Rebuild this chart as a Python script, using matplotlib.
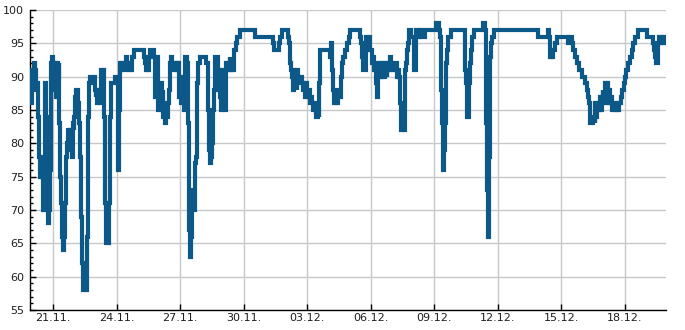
#!/usr/bin/env python3
"""Humidity trace, 19.11.-20.12. -> out.png"""
import matplotlib
matplotlib.use("Agg")
import matplotlib.pyplot as plt
import matplotlib.dates as mdates
import pandas as pd

LINE, GRID, INK, LABEL = "#0c5888", "#c8c8c8", "#000000", "#1e1e1e"
plt.rcParams.update({"font.family": ["DejaVu Sans"], "font.size": 8})

START = "2019-11-19"
# hours since START and the reading that holds from then on (step data)
HOURS = [
    22, 23, 24, 26, 27, 28, 29, 30, 31, 32, 33, 34, 35, 36, 37, 38, 39, 40, 41, 42,
    43, 44, 45, 46, 47, 48, 49, 50, 51, 52, 53, 54, 55, 56, 57, 58, 59, 60, 61, 62,
    63, 64, 65, 66, 67, 68, 69, 70, 71, 72, 73, 74, 75, 76, 77, 78, 79, 80, 81, 82,
    84, 85, 86, 87, 88, 89, 90, 92, 94, 95, 96, 97, 98, 99, 100, 101, 102, 104, 105, 106,
    107, 108, 110, 111, 112,
    113, 114, 116, 118, 120, 121, 122, 123, 124, 125, 126, 128, 130, 131, 132, 134, 135, 136, 137, 139,
    140, 150, 151, 152, 153, 154, 155, 156, 157, 158, 161, 162, 163, 164, 165, 166, 167, 168, 169, 170,
    171, 172, 173, 174, 175, 176, 177, 178, 179, 180, 181, 182, 183, 184, 186, 187, 188, 189, 190, 191,
    192, 193, 194, 195, 196, 197, 198, 200,
    201, 202, 203, 204, 205, 206, 207, 208, 209, 210, 211, 212, 214, 215, 220, 221, 223, 224, 225, 226,
    227, 228, 229, 230, 231, 232, 234, 235, 236, 237, 238, 239, 240, 241, 242, 243, 244, 245, 246, 247,
    248, 249, 250, 251, 252, 253, 255, 256, 257, 260,
    277, 297, 298, 304, 305, 307, 314, 315, 316, 317, 318, 319, 320, 321, 322, 323, 324, 325, 326, 327,
    329, 330, 331, 332, 333, 334, 335, 336, 338, 339, 340, 342, 343, 344, 345, 346, 348, 349, 350, 351,
    361, 362, 363, 364, 365, 366, 368, 370, 371, 373, 374, 375, 377, 379, 381, 383, 385,
    396, 397, 398, 399, 401, 403, 404, 405, 406, 407, 409, 410, 411, 412, 414, 415, 416, 417, 418, 419,
    420, 421, 422, 423, 424, 426, 427, 428, 429, 430, 431, 432, 434, 435, 437, 438, 439, 440, 441, 442,
    443, 445, 446, 447, 448, 449, 450, 451, 452, 454, 457, 459, 460, 462, 464, 465, 470, 482,
    486, 487, 488, 489, 490, 491, 492, 493, 494, 495, 496, 499, 515, 516, 517, 520, 521, 522, 523, 525,
    536, 538, 539, 540, 541, 542, 543, 544, 546, 548,
    598, 609, 610, 611, 613, 614, 615, 617, 619, 632, 634, 636, 638, 640, 642, 644, 648, 651, 653, 655,
    656, 657, 660, 662, 663, 664, 665, 667, 668, 669, 670, 671, 672, 673, 674, 675, 676, 677, 678, 680,
    681, 682, 684, 685, 687, 689, 690, 692, 693, 695, 696, 698, 700, 702, 704, 706, 708, 711, 721, 728,
    729, 731, 732, 734, 735, 737, 739, 740, 742, 743,
]
HUMIDITY = [
    87, 86, 91, 92, 91, 90, 88, 89, 84, 78, 75, 78, 75, 70, 72, 70, 89, 84, 72, 68,
    70, 76, 88, 92, 93, 92, 88, 92, 87, 92, 90, 92, 83, 75, 71, 66, 64, 66, 71, 76,
    78, 80, 82, 80, 82, 79, 78, 83, 82, 84, 87, 88, 88, 86, 83, 78, 72, 69, 62, 58,
    59, 58, 66, 76, 84, 89, 90, 89, 90, 88, 87, 88, 86, 87, 86, 88, 91, 90, 91, 84,
    71, 65, 65, 71, 84,
    87, 89, 89, 90, 89, 80, 76, 85, 92, 91, 92, 91, 92, 93, 92, 91, 92, 91, 93, 93,
    94, 94, 93, 92, 91, 92, 93, 91, 93, 94, 94, 93, 87, 91, 89, 93, 85, 88, 86, 89,
    85, 88, 84, 86, 83, 85, 84, 86, 88, 91, 92, 93, 92, 91, 92, 91, 92, 91, 92, 87,
    90, 86, 90, 86, 85, 92, 93, 92,
    83, 67, 63, 66, 73, 70, 72, 70, 77, 78, 89, 92, 92, 93, 93, 92, 91, 85, 79, 77,
    78, 80, 85, 88, 92, 93, 93, 88, 91, 87, 85, 91, 85, 90, 86, 85, 92, 91, 92, 91,
    93, 92, 91, 92, 91, 94, 95, 95, 96, 97,
    96, 95, 94, 95, 96, 97, 96, 95, 93, 92, 91, 90, 88, 91, 89, 90, 88, 91, 90, 89,
    90, 89, 88, 89, 88, 87, 89, 87, 88, 86, 87, 86, 85, 86, 85, 84, 85, 84, 89, 94,
    94, 93, 95, 91, 88, 86, 87, 86, 88, 87, 90, 92, 93, 94, 95, 96, 97,
    96, 95, 93, 91, 91, 96, 94, 95, 96, 94, 93, 92, 93, 91, 89, 87, 92, 91, 90, 92,
    90, 91, 92, 90, 92, 90, 91, 92, 91, 93, 92, 91, 92, 91, 92, 90, 91, 90, 86, 83,
    82, 84, 82, 91, 92, 94, 95, 96, 97, 96, 91, 96, 97, 96, 97, 96, 97, 98,
    97, 96, 88, 83, 76, 79, 83, 88, 92, 94, 96, 97, 91, 89, 84, 89, 92, 94, 96, 97,
    98, 97, 83, 73, 66, 78, 93, 95, 96, 97,
    96, 97, 96, 93, 94, 93, 94, 95, 96, 95, 96, 95, 94, 93, 92, 91, 90, 89, 88, 87,
    86, 83, 84, 83, 86, 84, 86, 85, 87, 85, 87, 88, 86, 87, 89, 86, 89, 86, 88, 86,
    87, 85, 86, 85, 86, 85, 86, 87, 88, 89, 90, 91, 92, 93, 94, 95, 96, 97, 96, 95,
    94, 93, 92, 95, 96, 95, 96, 95, 96, 95,
]
Y_TICKS = [55, 60, 65, 70, 75, 80, 85, 90, 95, 100]
X_TICKS = pd.date_range("2019-11-21", "2019-12-18", freq="3D")

t = pd.Timestamp(START) + pd.to_timedelta(HOURS, unit="h")

fig = plt.figure(figsize=(6.85, 3.3), dpi=100)
ax = fig.add_axes([30.3 / 685, 20 / 330, 635.7 / 685, 300 / 330])
ax.plot(t, HUMIDITY, color=LINE, linewidth=3, drawstyle="steps-post", zorder=3,
        solid_joinstyle="miter")

ax.set_xlim(t[0], t[-1])
ax.set_ylim(55, 100)
ax.set_yticks(Y_TICKS)
ax.yaxis.set_minor_locator(matplotlib.ticker.MultipleLocator(1))
ax.set_xticks(X_TICKS)
ax.xaxis.set_major_formatter(mdates.DateFormatter("%d.%m."))

for s in ["top", "right"]:
    ax.spines[s].set_visible(False)
for s in ["left", "bottom"]:
    ax.spines[s].set_color(INK); ax.spines[s].set_linewidth(1)
ax.tick_params(which="major", direction="in", length=4, width=1, color=INK,
               labelsize=8, labelcolor=LABEL)
ax.tick_params(which="minor", direction="in", length=2.5, width=1, color=INK)
ax.tick_params(axis="y", pad=4.5)
ax.tick_params(axis="x", pad=2.5)
ax.grid(True, which="major", color=GRID, linewidth=1, zorder=0)
ax.set_axisbelow(True)

fig.savefig("out.png", dpi=100)
plt.close(fig)
